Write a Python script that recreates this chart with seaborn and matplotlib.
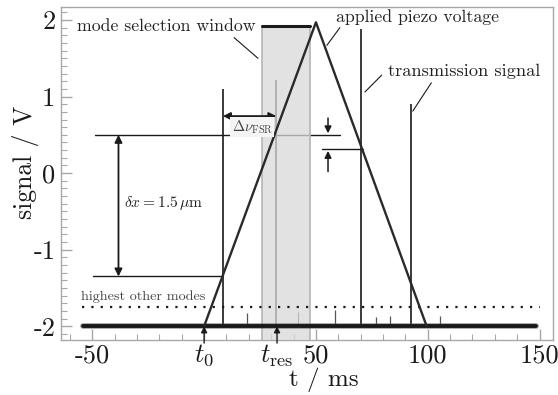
import numpy as np
import pandas as pd
import matplotlib
matplotlib.use("Agg")
import matplotlib.pyplot as plt
import seaborn as sns
from matplotlib.ticker import FixedLocator, FixedFormatter, MultipleLocator

# --- data -------------------------------------------------------------
# applied piezo voltage (triangular ramp)
piezo_t = [0.0, 50.0, 99.5]
piezo_v = [-2.0, 1.97, -2.0]

# transmission signal: flat baseline and resonance peaks
base_t = [-54.0, 148.5]
base_v = [-2.0, -2.0]
peak_t = [8.4, 32.3, 70.2, 92.5]
peak_v = [1.10, 1.22, 1.88, 0.90]
small_t = [19.0, 42.0, 58.5, 77.0, 83.0, 105.5]
small_v = [-1.83, -1.82, -1.79, -1.88, -1.87, -1.86]

# mode selection window
window_t = [25.9, 47.3]
window_top = 1.92

# reference levels
highest_modes_v = -1.75
fsr_levels = [0.50, 0.31]
dx_levels = [0.50, -1.35]

x_ticks = [-50, 0, 50, 100, 150]
x_labels = ["-50", "", "50", "100", "150"]
y_ticks = [-2, -1, 0, 1, 2]
y_labels = ["-2", "-1", "0", "1", "2"]

# --- style ------------------------------------------------------------
sns.set_theme(style="white")
plt.rcParams["font.family"] = ["cmr10", "DejaVu Serif"]
plt.rcParams["mathtext.fontset"] = "cm"
plt.rcParams["axes.unicode_minus"] = False
plt.rcParams["axes.formatter.use_mathtext"] = True

fig = plt.figure(figsize=(5.58, 3.95), dpi=100)
ax = fig.add_axes([61 / 558, 1 - 340 / 395, 492 / 558, 333 / 395])
ax.set_xlim(-64, 156)
ax.set_ylim(-2.18, 2.17)

frame = "#a8a8a8"
ink = "#1a1a1a"
note_size = 12.8

# shaded mode selection window
ax.fill_between(window_t, [-2.18, -2.18], [window_top, window_top],
                color="#d9d9d9", alpha=0.75, zorder=3, lw=0)
for t in window_t:
    ax.plot([t, t], [-2.18, window_top], color="#b5b5b5", lw=1.2, zorder=3)
ax.plot(window_t, [window_top, window_top], color=ink, lw=2.2, zorder=4)

# reference horizontal lines (under the window shading)
ax.plot([-48.7, 60.8], [fsr_levels[0], fsr_levels[0]], color=ink, lw=1.0, zorder=2)
ax.plot([-49.6, 8.4], [dx_levels[1], dx_levels[1]], color=ink, lw=1.0, zorder=2)
ax.plot([52.7, 71.0], [fsr_levels[1], fsr_levels[1]], color=ink, lw=1.0, zorder=2)

# transmission peaks
ax.vlines(peak_t, -2.0, peak_v, color=ink, lw=1.2, zorder=2)
ax.vlines(small_t, -2.0, small_v, color="#555555", lw=0.9, zorder=2)

# baseline of the transmission signal
df_base = pd.DataFrame({"t": base_t, "v": base_v})
sns.lineplot(data=df_base, x="t", y="v", ax=ax, color="#555555", lw=4.2,
             alpha=0.5, zorder=5)
sns.lineplot(data=df_base, x="t", y="v", ax=ax, color=ink, lw=2.8, zorder=5)

# applied piezo voltage
df_piezo = pd.DataFrame({"t": piezo_t, "v": piezo_v})
sns.lineplot(data=df_piezo, x="t", y="v", ax=ax, color="#2a2a2a", lw=1.7, zorder=6)

# highest other modes
ax.plot([-54.5, 150], [highest_modes_v, highest_modes_v], color=ink,
        lw=1.6, ls=(0, (1, 3.2)), zorder=4)
ax.text(-55, -1.62, "highest other modes", fontsize=10.2, color="#444444",
        ha="left", va="center", zorder=7)

# arrows
arrow_kw = dict(arrowstyle="<|-|>", color=ink, lw=1.3, mutation_scale=11,
                shrinkA=0, shrinkB=0)
ax.annotate("", xy=(-38.3, dx_levels[0]), xytext=(-38.3, dx_levels[1]),
            arrowprops=arrow_kw, zorder=7)
ax.text(-36, -0.39, r"$\delta x = 1.5\,\mu\mathrm{m}$", fontsize=11.2,
        color="#222222", ha="left", va="center")

ax.annotate("", xy=(8.4, 0.745), xytext=(32.3, 0.745),
            arrowprops=arrow_kw, zorder=7)
ax.text(21.5, 0.60, r"$\Delta\nu_{\mathrm{FSR}}$", fontsize=10.5, color="#444444",
        ha="center", va="center", zorder=8,
        bbox=dict(boxstyle="square,pad=0.1", fc="#f4f4f4", ec="none"))

single_kw = dict(arrowstyle="-|>", color=ink, lw=1.1, mutation_scale=10,
                 shrinkA=0, shrinkB=0)
ax.annotate("", xy=(55.4, 0.52), xytext=(55.4, 0.72), arrowprops=single_kw, zorder=7)
ax.annotate("", xy=(55.4, 0.29), xytext=(55.4, 0.02), arrowprops=single_kw, zorder=7)

# labels with leader lines
ax.text(-57, 1.92, "mode selection window", fontsize=note_size, color="#222222",
        ha="left", va="center", zorder=8)
ax.plot([13.4, 24.1], [1.77, 1.50], color=ink, lw=0.8, zorder=8)
ax.text(59, 2.04, "applied piezo voltage", fontsize=note_size, color="#222222",
        ha="left", va="center", zorder=8)
ax.plot([60.7, 54.9], [1.90, 1.67], color=ink, lw=0.8, zorder=8)
ax.text(82, 1.33, "transmission signal", fontsize=note_size + 0.4, color="#222222",
        ha="left", va="center", zorder=8)
ax.plot([79.4, 71.9], [1.28, 1.06], color=ink, lw=0.8, zorder=8)
ax.plot([101.6, 93.3], [1.18, 0.81], color=ink, lw=0.8, zorder=8)

# time markers below the axis
for t, lab in [(0.0, r"$t_0$"), (32.6, r"$t_{\mathrm{res}}$")]:
    ax.annotate("", xy=(t, -2.0), xytext=(t, -2.22),
                arrowprops=dict(arrowstyle="-|>", color=ink, lw=1.0,
                                mutation_scale=9, shrinkA=0, shrinkB=0),
                annotation_clip=False, zorder=9)
    ax.text(t, -2.38, lab, fontsize=19, ha="center", va="center", color=ink,
            clip_on=False)

# axes, ticks
for s in ax.spines.values():
    s.set_color(frame)
    s.set_linewidth(1.0)
ax.xaxis.set_major_locator(FixedLocator(x_ticks))
ax.xaxis.set_major_formatter(FixedFormatter(x_labels))
ax.xaxis.set_minor_locator(MultipleLocator(10))
ax.yaxis.set_major_locator(FixedLocator(y_ticks))
ax.yaxis.set_major_formatter(FixedFormatter(y_labels))
ax.yaxis.set_minor_locator(MultipleLocator(0.1))
ax.tick_params(axis="both", which="major", direction="in", length=8, width=1.0,
               color=frame, labelsize=19, labelcolor=ink,
               bottom=True, left=True, top=False, right=False)
ax.tick_params(axis="x", which="major", pad=3)
ax.tick_params(axis="y", which="major", pad=4)
ax.tick_params(axis="both", which="minor", direction="in", length=4.5, width=0.8,
               color=frame, bottom=True, left=True, top=False, right=False)
ax.set_xlabel("t / ms", fontsize=18, color=ink)
ax.xaxis.set_label_coords((324 - 61) / 492, -0.083)
ax.set_ylabel("signal / V", fontsize=18.5, color=ink)
ax.yaxis.set_label_coords((39 - 61) / 492, (340 - 162) / 333)

fig.savefig("out.png", dpi=100)
